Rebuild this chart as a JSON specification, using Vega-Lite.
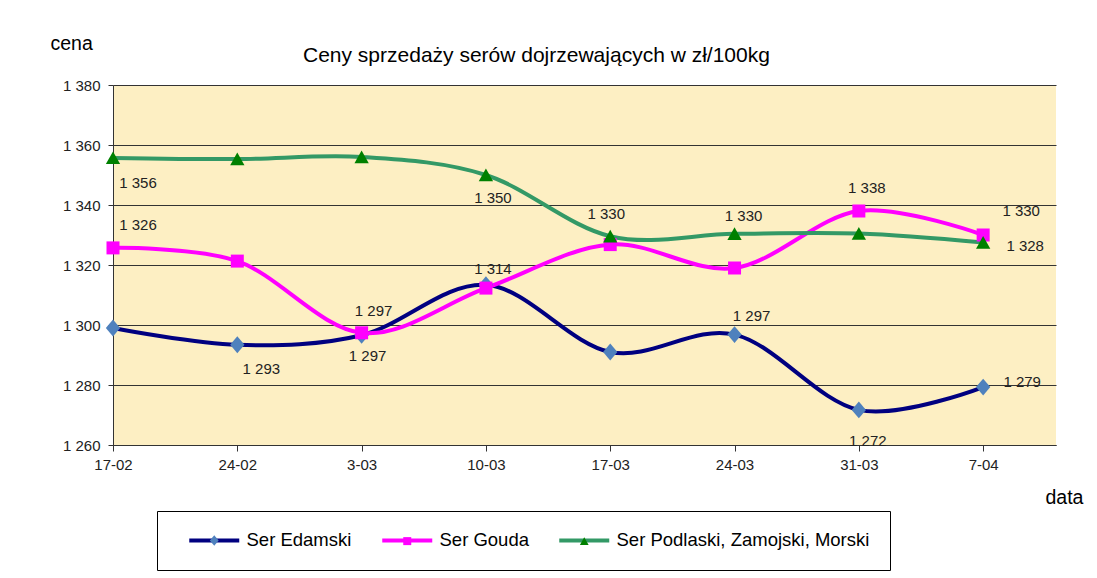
{
  "$schema": "https://vega.github.io/schema/vega-lite/v6.json",
  "width": 943,
  "height": 360,
  "autosize": "none",
  "padding": {"left": 113, "top": 85, "right": 41, "bottom": 133},
  "background": "white",
  "config": {
    "font": "Liberation Sans",
    "view": {"stroke": null, "fill": "#FDEFC3"}
  },
  "title": {
    "text": "Ceny sprzedaży serów dojrzewających w zł/100kg",
    "anchor": "start",
    "frame": "group",
    "dx": 190,
    "dy": 50,
    "fontSize": 21,
    "fontWeight": "normal",
    "color": "#000000",
    "baseline": "alphabetic",
    "offset": 0
  },
  "data": {
    "values": [
      {"date": "17-02", "series": "Ser Edamski", "value": 1299},
      {"date": "24-02", "series": "Ser Edamski", "value": 1293.4, "label": "1 293"},
      {"date": "3-03", "series": "Ser Edamski", "value": 1296.6, "label": "1 297"},
      {"date": "10-03", "series": "Ser Edamski", "value": 1313.4, "label": "1 314"},
      {"date": "17-03", "series": "Ser Edamski", "value": 1291},
      {"date": "24-03", "series": "Ser Edamski", "value": 1296.8, "label": "1 297"},
      {"date": "31-03", "series": "Ser Edamski", "value": 1271.7, "label": "1 272"},
      {"date": "7-04", "series": "Ser Edamski", "value": 1279.3, "label": "1 279"},
      {"date": "17-02", "series": "Ser Gouda", "value": 1325.7, "label": "1 326"},
      {"date": "24-02", "series": "Ser Gouda", "value": 1321.3},
      {"date": "3-03", "series": "Ser Gouda", "value": 1297.4, "label": "1 297"},
      {"date": "10-03", "series": "Ser Gouda", "value": 1312.3},
      {"date": "17-03", "series": "Ser Gouda", "value": 1326.8},
      {"date": "24-03", "series": "Ser Gouda", "value": 1319},
      {"date": "31-03", "series": "Ser Gouda", "value": 1338, "label": "1 338"},
      {"date": "7-04", "series": "Ser Gouda", "value": 1330, "label": "1 330"},
      {"date": "17-02", "series": "Ser Podlaski, Zamojski, Morski", "value": 1355.7, "label": "1 356"},
      {"date": "24-02", "series": "Ser Podlaski, Zamojski, Morski", "value": 1355.3},
      {"date": "3-03", "series": "Ser Podlaski, Zamojski, Morski", "value": 1356},
      {"date": "10-03", "series": "Ser Podlaski, Zamojski, Morski", "value": 1350, "label": "1 350"},
      {"date": "17-03", "series": "Ser Podlaski, Zamojski, Morski", "value": 1329.6, "label": "1 330"},
      {"date": "24-03", "series": "Ser Podlaski, Zamojski, Morski", "value": 1330.4, "label": "1 330"},
      {"date": "31-03", "series": "Ser Podlaski, Zamojski, Morski", "value": 1330.5},
      {"date": "7-04", "series": "Ser Podlaski, Zamojski, Morski", "value": 1327.5, "label": "1 328"}
    ]
  },
  "encoding": {
    "x": {
      "field": "date",
      "type": "nominal",
      "sort": null,
      "scale": {"type": "point", "padding": 0.293, "align": 0},
      "axis": {
        "title": "data",
        "titleFontSize": 19.5,
        "titleFontWeight": "normal",
        "titleColor": "#000000",
        "titleX": 932,
        "titleY": 58,
        "titleAlign": "left",
        "titleBaseline": "alphabetic",
        "labelAngle": 0,
        "labelFontSize": 15,
        "labelColor": "#222222",
        "labelPadding": 6,
        "tickSize": 6,
        "tickColor": "#333333",
        "domainColor": "#333333",
        "grid": false
      }
    },
    "y": {
      "field": "value",
      "type": "quantitative",
      "scale": {"domain": [1260, 1380], "nice": false, "zero": false},
      "axis": {
        "title": "cena",
        "titleFontSize": 19.5,
        "titleFontWeight": "normal",
        "titleColor": "#000000",
        "titleAngle": 0,
        "titleX": -63,
        "titleY": -36,
        "titleAlign": "left",
        "titleBaseline": "alphabetic",
        "values": [1260, 1280, 1300, 1320, 1340, 1360, 1380],
        "labelExpr": "replace(format(datum.value, ','), ',', ' ')",
        "labelFontSize": 15,
        "labelColor": "#222222",
        "labelPadding": 8,
        "tickSize": 5,
        "tickColor": "#333333",
        "domainColor": "#333333",
        "grid": true,
        "gridColor": "#333333",
        "gridWidth": 1
      }
    }
  },
  "layer": [
    {
      "mark": {"type": "line", "interpolate": "cardinal", "strokeWidth": 4},
      "encoding": {
        "stroke": {
          "field": "series",
          "type": "nominal",
          "scale": {
            "domain": ["Ser Edamski", "Ser Gouda", "Ser Podlaski, Zamojski, Morski"],
            "range": ["#000080", "#FF00FF", "#339966"]
          },
          "legend": {
            "orient": "none",
            "legendX": 44,
            "legendY": 426,
            "direction": "horizontal",
            "columns": 3,
            "title": null,
            "symbolType": "M-6.25,0H6.25",
            "symbolSize": 64,
            "symbolStrokeWidth": 4,
            "symbolFillColor": "transparent",
            "symbolOffset": 28,
            "labelOffset": 23,
            "labelFontSize": 18.5,
            "labelColor": "#000000",
            "labelLimit": 400,
            "columnPadding": 18,
            "padding": 20,
            "strokeColor": "#000000",
            "fillColor": "white"
          }
        }
      }
    },
    {
      "mark": {"type": "point", "filled": true, "size": 169, "opacity": 1, "strokeWidth": 0},
      "encoding": {
        "fill": {
          "field": "series",
          "type": "nominal",
          "scale": {
            "range": ["#4F81BD", "#FF00FF", "#008000"]
          },
          "legend": {
            "orient": "none",
            "legendX": 44,
            "legendY": 426,
            "direction": "horizontal",
            "columns": 3,
            "title": null,
            "symbolSize": 64,
            "symbolStrokeWidth": 4,
            "symbolStrokeColor": "transparent",
            "symbolOffset": 28,
            "labelOffset": 23,
            "labelFontSize": 18.5,
            "labelColor": "transparent",
            "labelLimit": 400,
            "columnPadding": 18,
            "padding": 20,
            "strokeColor": "transparent"
          }
        },
        "shape": {
          "field": "series",
          "type": "nominal",
          "scale": {
            "range": ["M0,-1.3L1.1,0L0,1.3L-1.1,0Z", "M-1,-1H1V1H-1Z", "M0,-1L1.1,0.95H-1.1Z"]
          }
        }
      }
    },
    {
      "transform": [{"filter": "isValid(datum.label)"}],
      "mark": {
        "type": "text",
        "fontSize": 15,
        "color": "#222222",
        "align": "center",
        "baseline": "middle",
        "dx": {"expr": "({'Ser Edamski|24-02': 24, 'Ser Edamski|3-03': 6, 'Ser Edamski|10-03': 7, 'Ser Edamski|24-03': 17, 'Ser Edamski|31-03': 9, 'Ser Edamski|7-04': 39, 'Ser Gouda|17-02': 25, 'Ser Gouda|3-03': 12, 'Ser Gouda|31-03': 8, 'Ser Gouda|7-04': 38, 'Ser Podlaski, Zamojski, Morski|17-02': 25, 'Ser Podlaski, Zamojski, Morski|10-03': 7, 'Ser Podlaski, Zamojski, Morski|17-03': -4, 'Ser Podlaski, Zamojski, Morski|24-03': 9, 'Ser Podlaski, Zamojski, Morski|7-04': 42})[datum.series + '|' + datum.date]"},
        "dy": {"expr": "({'Ser Edamski|24-02': 24, 'Ser Edamski|3-03': 21, 'Ser Edamski|10-03': -16, 'Ser Edamski|24-03': -19, 'Ser Edamski|31-03': 31, 'Ser Edamski|7-04': -5, 'Ser Gouda|17-02': -23, 'Ser Gouda|3-03': -22, 'Ser Gouda|31-03': -23, 'Ser Gouda|7-04': -24, 'Ser Podlaski, Zamojski, Morski|17-02': 25, 'Ser Podlaski, Zamojski, Morski|10-03': 23, 'Ser Podlaski, Zamojski, Morski|17-03': -22, 'Ser Podlaski, Zamojski, Morski|24-03': -18, 'Ser Podlaski, Zamojski, Morski|7-04': 3})[datum.series + '|' + datum.date]"}
      },
      "encoding": {
        "text": {"field": "label"}
      }
    }
  ]
}
